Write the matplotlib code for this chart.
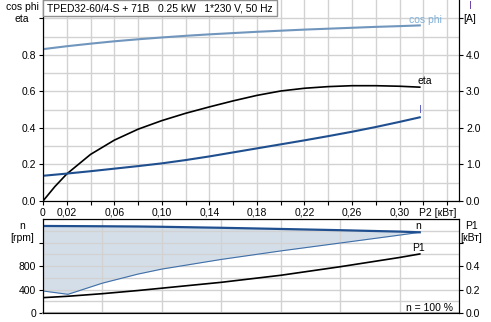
import numpy as np
import matplotlib
matplotlib.use("Agg")
import matplotlib.pyplot as plt
from matplotlib.patches import Rectangle

plt.rcParams['font.family'] = ['Liberation Sans', 'DejaVu Sans']
plt.rcParams['font.size'] = 7.5

# upper chart: P2 [kW] vs eta, cos phi, I
p2 = [0, 0.01, 0.02, 0.04, 0.06, 0.08, 0.10, 0.12, 0.14, 0.16, 0.18, 0.20,
      0.22, 0.24, 0.26, 0.28, 0.30, 0.317]
eta = [0, 0.079, 0.148, 0.255, 0.333, 0.393, 0.44, 0.48, 0.515, 0.548, 0.578, 0.602,
       0.617, 0.626, 0.631, 0.631, 0.628, 0.623]
cosphi = [0.831, 0.839, 0.847, 0.861, 0.874, 0.885, 0.895, 0.904, 0.912, 0.919,
          0.926, 0.932, 0.938, 0.943, 0.948, 0.953, 0.957, 0.961]
current = [0.69, 0.72, 0.75, 0.815, 0.885, 0.955, 1.03, 1.12, 1.22, 1.33, 1.44,
           1.55, 1.66, 1.775, 1.895, 2.025, 2.165, 2.29]

# lower chart: speed and P1
p2b = [0, 0.021, 0.05, 0.08, 0.10, 0.15, 0.20, 0.25, 0.30, 0.317]
n_max = [1486, 1484, 1481, 1477, 1472, 1455, 1435, 1414, 1390, 1378]
n_min = [376, 319, 510, 665, 750, 915, 1060, 1195, 1330, 1378]
p1 = [0.131, 0.143, 0.165, 0.192, 0.212, 0.262, 0.322, 0.395, 0.474, 0.504]

xlabels_top = {0: '0', 0.02: '0,02', 0.06: '0,06', 0.10: '0,10', 0.14: '0,14',
               0.18: '0,18', 0.22: '0,22', 0.26: '0,26', 0.30: '0,30'}
title = 'TPED32-60/4-S + 71B   0.25 kW   1*230 V, 50 Hz'

W, H = 491, 322
fig = plt.figure(figsize=(W / 100, H / 100), dpi=100)

def fx(px):
    return px / W

def fy(py):
    return 1 - py / H

grid_c = '#d2d2d2'
blue = '#1f4f8f'
light = '#7096bd'

# ---- top axes
ax = fig.add_axes([fx(43), fy(201), fx(459) - fx(43), fy(0) - fy(201)])
ax.set_xlim(0, 0.35)
ax.set_ylim(0, 1.1)
xt = np.round(np.arange(0, 0.35, 0.02), 2)
ax.set_xticks(xt)
ax.set_xticklabels([xlabels_top.get(round(v, 2), '') for v in xt])
ax.set_yticks([0, 0.2, 0.4, 0.6, 0.8, 1.0])
ax.set_yticklabels(['0.0', '0.2', '0.4', '0.6', '0.8', ''])
ax.set_yticks(np.arange(0, 1.1, 0.1), minor=True)
ax.grid(True, which='both', color=grid_c, lw=1)
ax.set_axisbelow(True)
ax.tick_params(length=3, pad=2)
ax.tick_params(which='minor', length=0)
ax.spines['top'].set_visible(False)

ax.plot(p2, cosphi, color=light, lw=1.5)
ax.plot(p2, eta, color='black', lw=1.2)
ax2 = ax.twinx()
ax2.set_ylim(0, 5.5)
ax2.set_yticks([0, 1, 2, 3, 4, 5])
ax2.set_yticklabels(['0.0', '1.0', '2.0', '3.0', '4.0', ''])
ax2.tick_params(length=3, pad=2)
ax2.spines['top'].set_visible(False)
ax2.plot(p2, current, color=blue, lw=1.5)

ax.text(0.322, 0.962, 'cos phi', color='#7eb0d8', ha='center', va='bottom')
ax.text(0.321, 0.63, 'eta', color='black', ha='center', va='bottom')
ax.text(0.3175, 0.47, 'I', color='#5b5fbf', ha='center', va='bottom')
ax.text(0.332, -0.04, 'P2 [кВт]', ha='center', va='top')

fig.text(fx(22), fy(7), 'cos phi', ha='center', va='center')
fig.text(fx(22), fy(19), 'eta', ha='center', va='center')
fig.text(fx(470), fy(6), 'I', ha='center', va='center', color='#6a3fa0')
fig.text(fx(470), fy(19), '[A]', ha='center', va='center')

fig.patches.append(Rectangle((fx(43), fy(16)), fx(277) - fx(43), fy(0) - fy(16),
                             transform=fig.transFigure, facecolor='white',
                             edgecolor='#909090', lw=1, zorder=5))
t = fig.text(fx(47), fy(8.5), title, ha='left', va='center', fontsize=8, zorder=6)
# size the title so it spans about 225 px like the original
r = fig.canvas.get_renderer()
w = t.get_window_extent(r).width
t.set_fontsize(8 * 225 / w)

# ---- bottom axes
bx = fig.add_axes([fx(43), fy(313), fx(459) - fx(43), fy(219.3) - fy(313)])
bx.set_xlim(0, 0.35)
bx.set_ylim(0, 1600)
bx.set_xticks(np.arange(0, 0.35, 0.05))
bx.set_xticklabels([])
bx.tick_params(axis='x', length=0)
bx.set_yticks([0, 400, 800, 1200])
bx.set_yticklabels(['0', '400', '800', ''])
bx.set_yticks(np.arange(0, 1601, 200), minor=True)
bx.tick_params(axis='y', length=3, pad=2)
bx.tick_params(which='minor', length=0)
bx.fill_between(p2b, n_min, n_max, color='#d4dee9', lw=0, zorder=1)
bx.grid(True, which='both', color=grid_c, lw=1, zorder=2)
bx.plot(p2b, n_min, color='#3f6fa8', lw=0.8, zorder=3)
bx.plot(p2b, n_max, color=blue, lw=1.6, zorder=4)
bx.spines['bottom'].set_color('#a0a0a0')
bx.spines['bottom'].set_linewidth(1.5)

bx2 = bx.twinx()
bx2.set_ylim(0, 0.8)
bx2.set_yticks([0, 0.2, 0.4, 0.6])
bx2.set_yticklabels(['0.0', '0.2', '0.4', ''])
bx2.tick_params(length=3, pad=2)
bx2.plot(p2b, p1, color='black', lw=1.2)

bx.text(0.316, 1395, 'n', ha='center', va='bottom')
bx2.text(0.316, 0.515, 'P1', ha='center', va='bottom')
bx.text(0.325, 90, 'n = 100 %', ha='center', va='center')

fig.text(fx(22), fy(226), 'n', ha='center', va='center')
fig.text(fx(22), fy(238), '[rpm]', ha='center', va='center')
fig.text(fx(471), fy(226), 'P1', ha='center', va='center')
fig.text(fx(471), fy(238), '[кВт]', ha='center', va='center')

fig.savefig('out.png', dpi=100)
